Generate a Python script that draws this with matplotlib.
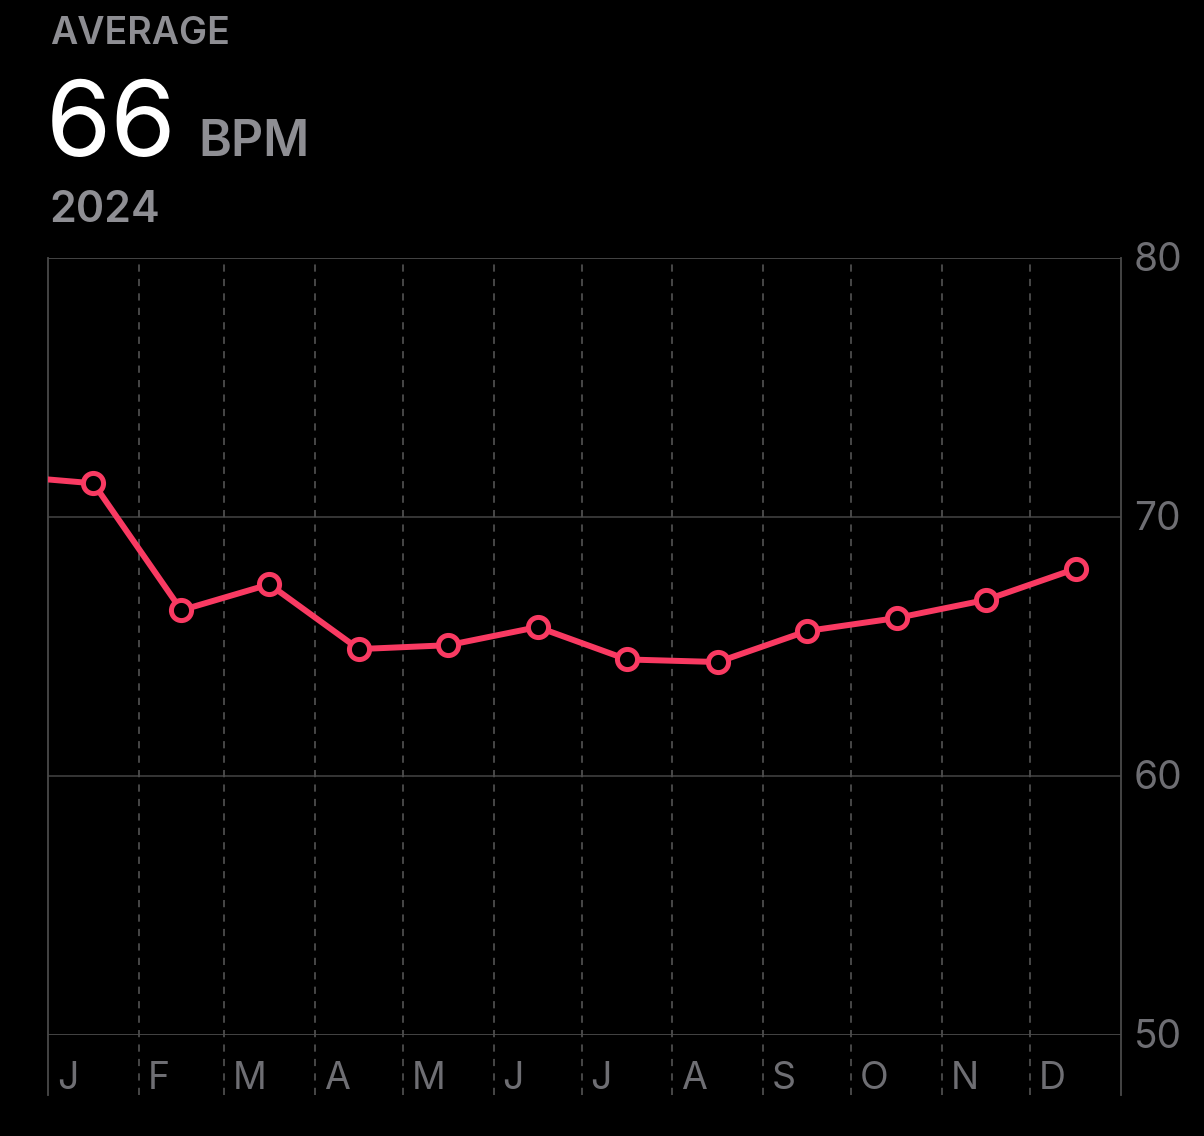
import numpy as np
import matplotlib
matplotlib.use("Agg")
import matplotlib.pyplot as plt

# ---- data ----
months = ["J", "F", "M", "A", "M", "J", "J", "A", "S", "O", "N", "D"]
bpm_2024 = [71.3, 66.4, 67.4, 64.9, 65.05, 65.75, 64.5, 64.4, 65.6, 66.1, 66.8, 68.0]
bpm_prev_dec = 71.6          # Dec 2023, continues line into the left edge
y_ticks = [50, 60, 70, 80]
average_value = "66"
unit = "BPM"
year_label = "2024"
title_label = "AVERAGE"

# month geometry (day-of-year, 2024 leap year)
starts = (np.arange("2024-01", "2025-02", dtype="datetime64[M]").astype("datetime64[D]")
          - np.datetime64("2024-01-01")).astype(float)
mids = (starts[:-1] + starts[1:]) / 2.0
prev_mid = -15.5

PINK = "#F93A62"
GRAY_TXT = "#8E8E93"
AXIS_TXT = "#6E6E73"

plt.rcParams["font.family"] = ["Inter", "DejaVu Sans"]

fig = plt.figure(figsize=(12.04, 11.36), dpi=100, facecolor="black")
ax = fig.add_axes([48/1204, 101/1136, (1121-48)/1204, (1035-258)/1136])
ax.set_facecolor("black")
ax.set_xlim(0, 366)
ax.set_ylim(50, 80)

# horizontal grid
for v in y_ticks:
    col = "#4a4a4a" if v in (50, 80) else "#3a3a3a"
    ax.axhline(v, color=col, lw=1.3, zorder=1)

# vertical month dividers (extend below axes)
xt = ax.get_xaxis_transform()
ext = -(1095-1035)/(1035-258)
for i, s in enumerate(starts):
    if i == 0 or i == len(starts) - 1:
        ax.plot([s, s], [ext, 1], transform=xt, color="#4a4a4a", lw=1.3,
                clip_on=False, zorder=1)
    else:
        ax.plot([s, s], [ext, 1], transform=xt, color="#4d4d4d", lw=1.3,
                ls=(0, (4, 4)), clip_on=False, zorder=1)

for sp in ax.spines.values():
    sp.set_visible(False)
ax.set_xticks([])
ax.set_yticks([])

# month labels
for s, m in zip(starts[:-1], months):
    ax.text(s + 3.0, -0.056, m, transform=xt, color=AXIS_TXT, fontsize=27,
            ha="left", va="center", clip_on=False)

# right y labels
for v in y_ticks:
    ax.text(1.012, v + 0.06, str(v), transform=ax.get_yaxis_transform(), color=AXIS_TXT,
            fontsize=28, ha="left", va="center_baseline", clip_on=False)

# line
xs = np.concatenate([[prev_mid], mids])
ys = np.concatenate([[bpm_prev_dec], bpm_2024])
ax.plot(xs, ys, color=PINK, lw=4.3, zorder=3, solid_joinstyle="round",
        solid_capstyle="butt", clip_on=True)
ax.plot(mids, bpm_2024, ls="none", marker="o", ms=14.5, mfc="black", mec=PINK,
        mew=3.6, zorder=4, clip_on=False)

# header texts
fig.text(50/1204, 1-34/1136, title_label, color=GRAY_TXT, fontsize=27,
         fontweight="semibold", ha="left", va="center")
fig.text(46/1204, 1-156/1136, average_value, color="white", fontsize=76,
         ha="left", va="baseline")
fig.text(198/1204, 1-156/1136, unit, color=GRAY_TXT, fontsize=36,
         fontweight="semibold", ha="left", va="baseline")
fig.text(49/1204, 1-222/1136, year_label, color=GRAY_TXT, fontsize=31,
         fontweight="semibold", ha="left", va="baseline")

fig.savefig("out.png", dpi=100, facecolor="black")
